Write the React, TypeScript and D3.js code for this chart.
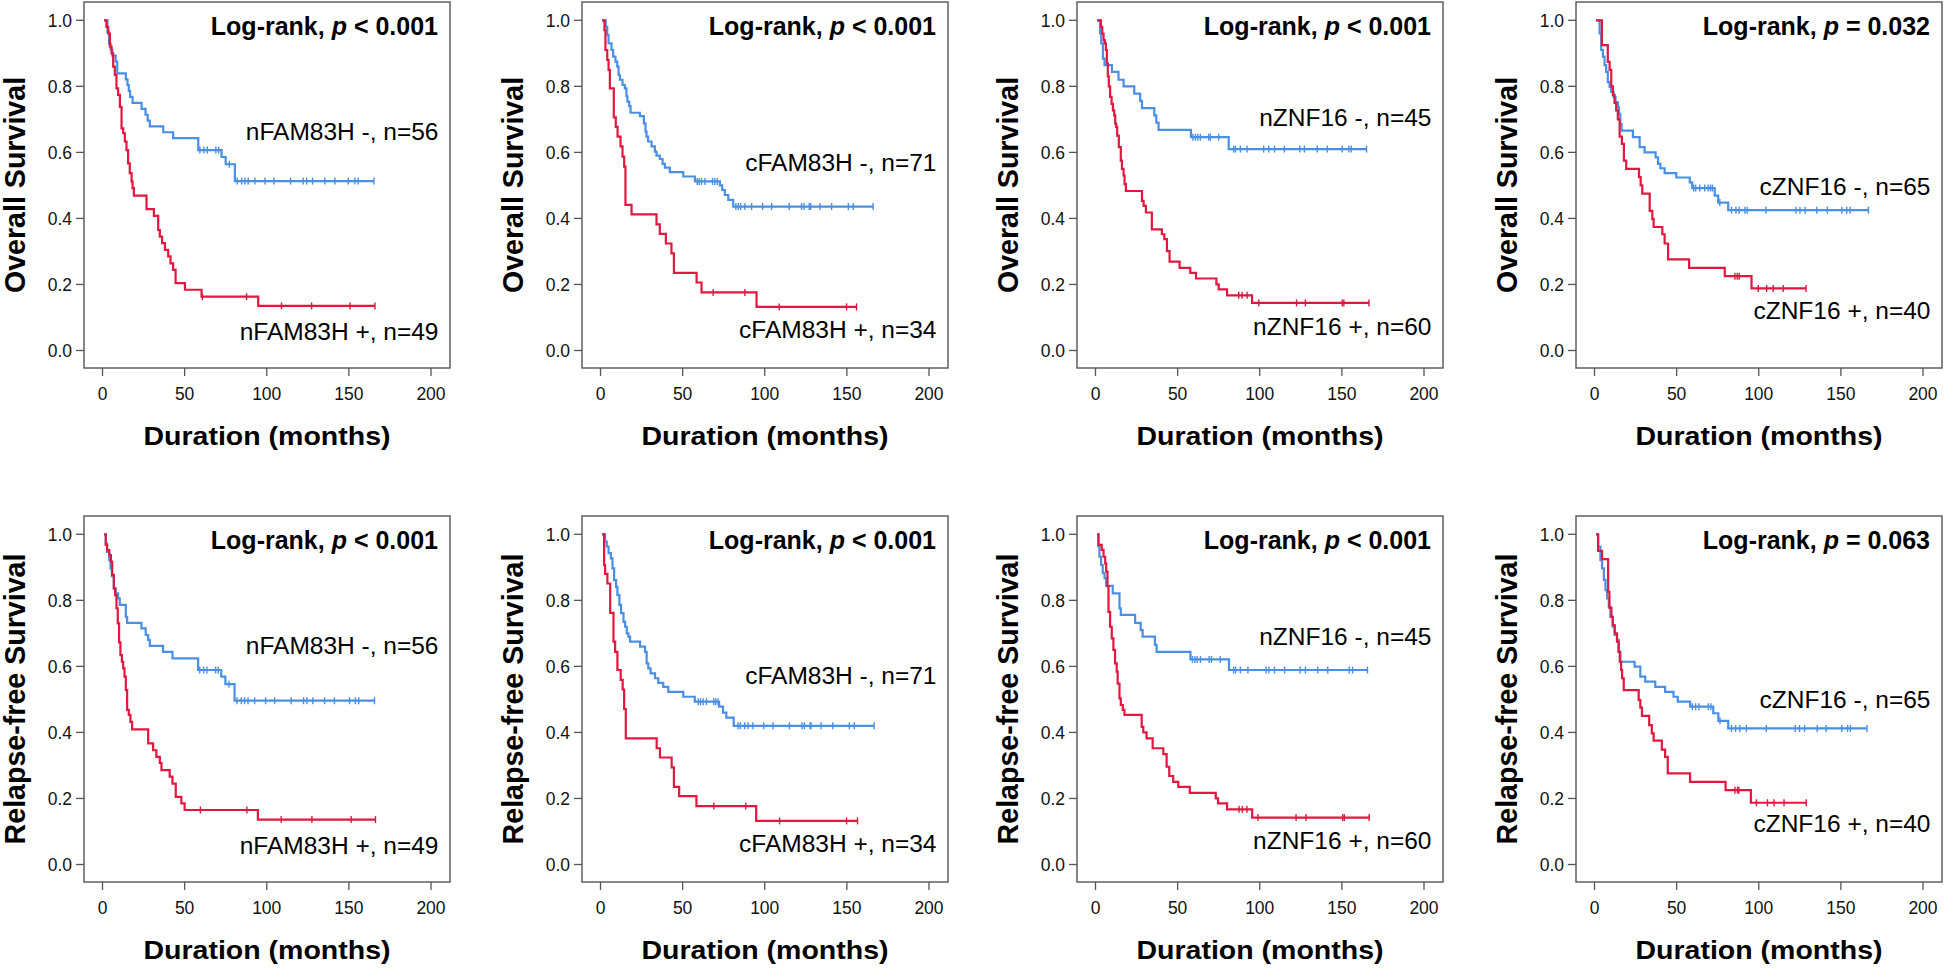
import React from 'react';
import * as d3 from 'd3';

// ---------- axis ticks ----------
const xTicks = [0, 50, 100, 150, 200];
const yTicks = [0, 0.2, 0.4, 0.6, 0.8, 1.0];

// ---------- Overall survival: nFAM83H ----------
const osNFamNegSteps = [[1,1],[3,0.964],[4,0.929],[5,0.911],[6,0.893],[8,0.875],[9,0.839],[14.2,0.821],[15.2,0.804],[16,0.786],[16.8,0.768],[18.3,0.75],[23.8,0.732],[26.2,0.714],[27.5,0.696],[28.8,0.679],[37,0.661],[43,0.643],[58.3,0.607],[72.5,0.586],[75,0.564],[80.6,0.513]];
const osNFamNegCensor = [59.3,61.7,63.8,69,70.7,77.2,82,84.7,86.7,88.7,92.8,98.9,104.4,114.5,122.2,124.3,127.9,135.4,141.5,149.6,153.7,155.7,165.3];
const osNFamPosSteps = [[1,1],[2.4,0.98],[3.5,0.96],[4.5,0.92],[5.5,0.9],[6.5,0.86],[7.5,0.835],[8.5,0.794],[9.5,0.774],[10.6,0.738],[11.6,0.673],[12.6,0.658],[13.6,0.633],[14.6,0.607],[15.6,0.567],[16.6,0.537],[17.7,0.512],[18.3,0.492],[19.1,0.469],[26.8,0.428],[31.3,0.408],[33.9,0.365],[34.9,0.345],[36.3,0.325],[38,0.305],[40,0.285],[41.4,0.264],[43,0.244],[44.5,0.204],[50.2,0.184],[60.3,0.163],[94.8,0.135]];
const osNFamPosCensor = [60.8,87.7,109,127.3,150.7,165.9];

// ---------- Overall survival: cFAM83H ----------
const osCFamNegSteps = [[1,1],[3.2,0.98],[4.1,0.955],[4.9,0.93],[6.7,0.91],[7.7,0.89],[9.1,0.875],[10.2,0.86],[11,0.835],[11.8,0.82],[13.4,0.804],[14.8,0.794],[15.8,0.77],[16.4,0.754],[17.5,0.74],[18.3,0.72],[24,0.71],[26.4,0.688],[27.4,0.663],[28,0.648],[29,0.633],[31.1,0.618],[33.1,0.602],[34.1,0.59],[36.1,0.58],[37.8,0.565],[39.2,0.554],[42.2,0.54],[50.4,0.527],[57.5,0.512],[72.7,0.5],[74.1,0.486],[75.7,0.471],[77.8,0.456],[80.8,0.436]];
const osCFamNegCensor = [58.9,60.1,61.5,63.6,68.2,69.6,71.1,82.4,83.9,85.3,87.9,92,98.7,104.2,114.9,122.4,123.9,127.1,127.9,133.6,140.7,150.9,153.9,166];
const osCFamPosSteps = [[1,1],[2.4,0.97],[3,0.91],[4.1,0.88],[4.9,0.85],[5.7,0.794],[8.1,0.706],[9.3,0.677],[10.4,0.648],[12.2,0.618],[13.4,0.587],[14.4,0.557],[15.2,0.441],[18.9,0.412],[34.1,0.382],[36.1,0.353],[39.8,0.324],[43.2,0.294],[44.7,0.235],[58.5,0.206],[61.5,0.176],[95,0.132]];
const osCFamPosCensor = [68.6,87.9,108.8,149.8,155.9];

// ---------- Overall survival: nZNF16 ----------
const osNZnfNegSteps = [[1,1],[2.8,0.96],[3.5,0.93],[4.5,0.884],[5.5,0.864],[10,0.844],[14,0.82],[17.1,0.8],[23.6,0.778],[27.2,0.756],[28.3,0.734],[35.8,0.712],[37,0.69],[38.4,0.668],[58.1,0.646],[81.1,0.61]];
const osNZnfNegCensor = [59.3,60.8,62.2,63.8,68.9,69.9,75,84.1,85.2,88.2,92.3,102.4,105.5,109,115,124.4,127.2,135,141.1,150.2,154.3,155.7,165];
const osNZnfPosSteps = [[1,1],[3.3,0.98],[4.1,0.96],[4.9,0.94],[5.7,0.93],[6.3,0.91],[6.9,0.87],[7.5,0.83],[8.1,0.8],[8.9,0.768],[9.8,0.747],[10.6,0.727],[11.4,0.712],[12,0.687],[12.6,0.677],[13.2,0.651],[14.2,0.616],[15.4,0.575],[16.1,0.55],[17.1,0.53],[17.7,0.504],[18.5,0.483],[28.3,0.453],[29.3,0.438],[30.7,0.418],[34.3,0.367],[40.4,0.352],[41.9,0.337],[43.5,0.301],[45.1,0.269],[51.2,0.25],[57.7,0.235],[61.2,0.218],[73.6,0.2],[75,0.185],[80.1,0.167],[95.3,0.144]];
const osNZnfPosCensor = [87.2,89.2,92.3,99.4,122.4,127.8,150.2,151.2,166.5];

// ---------- Overall survival: cZNF16 ----------
const osCZnfNegSteps = [[1,1],[3.1,0.96],[4.1,0.91],[5.1,0.89],[6.1,0.864],[7.1,0.844],[8.1,0.813],[9.2,0.798],[10.2,0.783],[11.6,0.768],[12.8,0.752],[14.2,0.737],[14.9,0.717],[15.7,0.686],[16.5,0.666],[23.4,0.646],[27.5,0.616],[30.5,0.6],[37.2,0.585],[38.7,0.565],[40.1,0.552],[42.7,0.537],[49.8,0.524],[58,0.509],[59.5,0.492],[73.2,0.469],[75.3,0.448],[81.4,0.425]];
const osCZnfNegCensor = [60.4,61.6,64.1,67.1,69.2,70.6,71.8,76.3,83.4,86.1,88.1,91.6,93,104.4,122.7,125.1,128.2,135.3,141.8,150.6,153.6,155.6,166.8];
const osCZnfPosSteps = [[1,1],[4.5,0.925],[8.1,0.874],[9.2,0.85],[10.2,0.8],[11.2,0.774],[12.2,0.75],[13.2,0.727],[14.2,0.7],[15.3,0.648],[16.7,0.626],[17.9,0.575],[19.3,0.55],[27.1,0.525],[28.1,0.5],[29.1,0.475],[33.6,0.423],[35.2,0.398],[36,0.374],[41.3,0.352],[42.7,0.324],[44.8,0.276],[57.6,0.25],[79.3,0.225],[95.6,0.188]];
const osCZnfPosCensor = [85.5,86.9,88.1,99.7,104.8,108.8,114.9,128.8];

// ---------- Relapse-free survival: nFAM83H ----------
const rfsNFamNegSteps = [[1,1],[2,0.972],[2.8,0.947],[4.1,0.922],[4.9,0.897],[5.7,0.873],[6.9,0.836],[8.1,0.821],[9.5,0.806],[10.5,0.786],[14.2,0.75],[15,0.732],[23.7,0.715],[26.3,0.695],[27.8,0.68],[28.8,0.662],[36.9,0.644],[42.6,0.624],[58.2,0.589],[72.3,0.569],[74.8,0.546],[80.4,0.496]];
const rfsNFamNegCensor = [59.2,61.6,63.6,68.9,70.5,77,81.9,84.5,86.5,88.6,92.6,99.3,104.8,114.9,122.4,124.4,128.1,135.2,141.2,150.4,154,156,165.6];
const rfsNFamPosSteps = [[1,1],[2,0.968],[2.8,0.952],[4.1,0.937],[5.1,0.917],[5.9,0.877],[6.9,0.836],[7.7,0.816],[8.5,0.776],[9.3,0.73],[10.1,0.673],[10.9,0.634],[11.8,0.614],[12.6,0.594],[13.4,0.569],[14.2,0.528],[15,0.468],[16,0.453],[17,0.432],[18,0.409],[27.8,0.367],[30.8,0.346],[32.8,0.326],[34.9,0.308],[35.9,0.286],[40.9,0.266],[42.6,0.245],[44.6,0.205],[48,0.185],[50,0.165],[94.6,0.136]];
const rfsNFamPosCensor = [59.6,87.9,108.8,127.5,151.4,166.2];

// ---------- Relapse-free survival: cFAM83H ----------
const rfsCFamNegSteps = [[1,1],[2.8,0.978],[3.8,0.963],[4.9,0.943],[6.3,0.927],[7.3,0.897],[8.3,0.861],[9.5,0.841],[10.3,0.816],[11.5,0.786],[12.5,0.761],[14,0.735],[15,0.72],[16,0.7],[17,0.69],[18,0.675],[24.1,0.66],[27.1,0.644],[28.1,0.609],[29.1,0.594],[30.5,0.579],[33.2,0.564],[35.2,0.55],[38.2,0.538],[41.3,0.523],[50.4,0.508],[57.4,0.493],[72.2,0.478],[74.6,0.46],[76.6,0.445],[81.1,0.42]];
const rfsCFamNegCensor = [59.5,60.9,62.5,64.5,69,70.2,71.6,83.7,85.1,87.8,89.8,92.8,99.3,105,115,122.7,124.1,127.6,128.2,134.3,141.4,151.5,154.5,166.6];
const rfsCFamPosSteps = [[1,1],[2.2,0.907],[2.8,0.88],[4.2,0.851],[5.9,0.762],[7.9,0.675],[8.9,0.644],[10.3,0.589],[12.3,0.559],[13.5,0.53],[14.4,0.471],[15.4,0.382],[34.2,0.352],[36.2,0.324],[43.3,0.294],[44.7,0.235],[47.9,0.207],[58.4,0.177],[94.8,0.132]];
const rfsCFamPosCensor = [69,88.4,109,149.8,156.5];

// ---------- Relapse-free survival: nZNF16 ----------
const rfsNZnfNegSteps = [[1,1],[1.8,0.963],[2.4,0.932],[3.4,0.907],[4.4,0.882],[5.5,0.867],[6.5,0.844],[10.5,0.821],[14.6,0.776],[15.4,0.756],[24.1,0.732],[27.5,0.71],[28.7,0.69],[36.2,0.665],[37.2,0.644],[57.8,0.621],[81.3,0.589]];
const rfsNZnfNegCensor = [59,60.5,61.9,63.9,69.2,70.6,76,84.1,85.3,88.2,92.8,103.9,105.6,109,115.1,124.6,127.8,135.3,141.4,154.5,156.5,165.6];
const rfsNZnfPosSteps = [[1,1],[1.8,0.968],[3.8,0.953],[4.9,0.932],[5.9,0.912],[6.5,0.887],[7.3,0.843],[7.9,0.765],[8.9,0.72],[9.9,0.685],[10.9,0.65],[11.9,0.609],[12.9,0.584],[13.5,0.548],[14.6,0.503],[15.4,0.483],[16.6,0.468],[17.6,0.453],[28.1,0.417],[29.1,0.4],[31.1,0.382],[34.8,0.352],[41.3,0.334],[43.3,0.296],[44.9,0.268],[47.3,0.25],[50.4,0.235],[57.4,0.217],[73.2,0.2],[74.6,0.185],[80.1,0.167],[95.4,0.142]];
const rfsNZnfPosCensor = [87.4,89.4,92.2,98.9,122.1,128.2,150.5,151.5,166.6];

// ---------- Relapse-free survival: cZNF16 ----------
const rfsCZnfNegSteps = [[1,1],[2.2,0.963],[3.6,0.922],[4.6,0.897],[5.7,0.862],[6.7,0.831],[7.7,0.806],[8.7,0.781],[9.7,0.75],[11.1,0.72],[12.3,0.695],[13.7,0.68],[14.7,0.644],[15.8,0.614],[24.4,0.599],[27.9,0.569],[30.9,0.554],[37,0.538],[43,0.523],[48.1,0.508],[50.7,0.493],[58.2,0.478],[72.3,0.458],[75.4,0.435],[81.4,0.412]];
const rfsCZnfNegCensor = [59.6,61.6,63.6,69.3,70.9,76.4,83.4,85.9,88.5,92.5,104.6,122.2,124.8,127.9,135.6,141,150.5,154.1,155.8,165.9];
const rfsCZnfPosSteps = [[1,1],[2.2,0.95],[4.6,0.925],[8.3,0.826],[9.1,0.777],[10.3,0.75],[11.1,0.725],[12.3,0.7],[13.7,0.675],[14.7,0.644],[15.4,0.614],[16.2,0.589],[16.8,0.564],[17.8,0.528],[26.9,0.498],[27.9,0.475],[28.9,0.45],[33.3,0.422],[34.9,0.397],[36,0.375],[41,0.348],[43,0.326],[44.6,0.276],[58.2,0.25],[79.8,0.225],[95.2,0.187]];
const rfsCZnfPosCensor = [85.5,87.1,87.9,98.6,105.3,109.3,115.4,128.9];

// ---------- panel definitions ----------
const BLUE = '#4a8fe6';
const RED = '#e2163f';
const FONT = '"Liberation Sans", Arial, Helvetica, sans-serif';

const colLefts = [84, 582, 1077, 1576];
const rowTops = [2, 516];
const BOX_W = 366;
const BOX_H = 366;

type Panel = {
  col: number; row: number; yTitle: string; pText: string;
  negLabel: string; posLabel: string; negLabelY: number; posLabelY: number;
  negSteps: number[][]; negCensor: number[]; posSteps: number[][]; posCensor: number[];
};

const panels: Panel[] = [
  { col: 0, row: 0, yTitle: 'Overall Survival', pText: '< 0.001', negLabel: 'nFAM83H -, n=56', posLabel: 'nFAM83H +, n=49', negLabelY: 0.638, posLabelY: 0.032, negSteps: osNFamNegSteps, negCensor: osNFamNegCensor, posSteps: osNFamPosSteps, posCensor: osNFamPosCensor },
  { col: 1, row: 0, yTitle: 'Overall Survival', pText: '< 0.001', negLabel: 'cFAM83H -, n=71', posLabel: 'cFAM83H +, n=34', negLabelY: 0.545, posLabelY: 0.038, negSteps: osCFamNegSteps, negCensor: osCFamNegCensor, posSteps: osCFamPosSteps, posCensor: osCFamPosCensor },
  { col: 2, row: 0, yTitle: 'Overall Survival', pText: '< 0.001', negLabel: 'nZNF16 -, n=45', posLabel: 'nZNF16 +, n=60', negLabelY: 0.68, posLabelY: 0.046, negSteps: osNZnfNegSteps, negCensor: osNZnfNegCensor, posSteps: osNZnfPosSteps, posCensor: osNZnfPosCensor },
  { col: 3, row: 0, yTitle: 'Overall Survival', pText: '= 0.032', negLabel: 'cZNF16 -, n=65', posLabel: 'cZNF16 +, n=40', negLabelY: 0.47, posLabelY: 0.094, negSteps: osCZnfNegSteps, negCensor: osCZnfNegCensor, posSteps: osCZnfPosSteps, posCensor: osCZnfPosCensor },
  { col: 0, row: 1, yTitle: 'Relapse-free Survival', pText: '< 0.001', negLabel: 'nFAM83H -, n=56', posLabel: 'nFAM83H +, n=49', negLabelY: 0.639, posLabelY: 0.033, negSteps: rfsNFamNegSteps, negCensor: rfsNFamNegCensor, posSteps: rfsNFamPosSteps, posCensor: rfsNFamPosCensor },
  { col: 1, row: 1, yTitle: 'Relapse-free Survival', pText: '< 0.001', negLabel: 'cFAM83H -, n=71', posLabel: 'cFAM83H +, n=34', negLabelY: 0.546, posLabelY: 0.038, negSteps: rfsCFamNegSteps, negCensor: rfsCFamNegCensor, posSteps: rfsCFamPosSteps, posCensor: rfsCFamPosCensor },
  { col: 2, row: 1, yTitle: 'Relapse-free Survival', pText: '< 0.001', negLabel: 'nZNF16 -, n=45', posLabel: 'nZNF16 +, n=60', negLabelY: 0.664, posLabelY: 0.048, negSteps: rfsNZnfNegSteps, negCensor: rfsNZnfNegCensor, posSteps: rfsNZnfPosSteps, posCensor: rfsNZnfPosCensor },
  { col: 3, row: 1, yTitle: 'Relapse-free Survival', pText: '= 0.063', negLabel: 'cZNF16 -, n=65', posLabel: 'cZNF16 +, n=40', negLabelY: 0.473, posLabelY: 0.099, negSteps: rfsCZnfNegSteps, negCensor: rfsCZnfNegCensor, posSteps: rfsCZnfPosSteps, posCensor: rfsCZnfPosCensor },
];

function stepPath(steps: number[][], censor: number[], x: d3.ScaleLinear<number, number>, y: d3.ScaleLinear<number, number>) {
  const end = Math.max(d3.max(censor) ?? 0, steps[steps.length - 1][0]);
  const p = d3.path();
  p.moveTo(x(steps[0][0]), y(steps[0][1]));
  for (let i = 1; i < steps.length; i++) {
    p.lineTo(x(steps[i][0]), y(steps[i - 1][1]));
    p.lineTo(x(steps[i][0]), y(steps[i][1]));
  }
  p.lineTo(x(end), y(steps[steps.length - 1][1]));
  return p.toString();
}

function survAt(steps: number[][], t: number) {
  let s = steps[0][1];
  for (const [ti, si] of steps) { if (ti <= t) s = si; }
  return s;
}

function Curve({ steps, censor, color, x, y }: any) {
  return (
    <g>
      <path d={stepPath(steps, censor, x, y)} fill="none" stroke={color} strokeWidth={2.2} strokeLinejoin="miter" />
      {censor.map((c: number, i: number) => {
        const cy = y(survAt(steps, c));
        return <line key={i} x1={x(c)} x2={x(c)} y1={cy - 3.5} y2={cy + 3.5} stroke={color} strokeWidth={1.4} />;
      })}
    </g>
  );
}

function KMPanel({ p }: { p: Panel }) {
  const left = colLefts[p.col];
  const top = rowTops[p.row];
  const x = d3.scaleLinear().domain([0, 200]).range([18.5, 347]);
  const y = d3.scaleLinear().domain([0, 1]).range([348.5, 18.3]);
  const axisColor = '#555';
  return (
    <g transform={`translate(${left},${top})`} fontFamily={FONT}>
      <rect x={0} y={0} width={BOX_W} height={BOX_H} fill="none" stroke={axisColor} strokeWidth={1.4} />
      {yTicks.map((v) => (
        <g key={'y' + v}>
          <line x1={-8} x2={0} y1={y(v)} y2={y(v)} stroke={axisColor} strokeWidth={1.3} />
          <text x={-12} y={y(v) + 6.2} textAnchor="end" fontSize={17.5} fill="#111">{v.toFixed(1)}</text>
        </g>
      ))}
      {xTicks.map((v) => (
        <g key={'x' + v}>
          <line x1={x(v)} x2={x(v)} y1={BOX_H} y2={BOX_H + 8} stroke={axisColor} strokeWidth={1.3} />
          <text x={x(v)} y={BOX_H + 31.5} textAnchor="middle" fontSize={17.5} fill="#111">{v}</text>
        </g>
      ))}
      <Curve steps={p.negSteps} censor={p.negCensor} color={BLUE} x={x} y={y} />
      <Curve steps={p.posSteps} censor={p.posCensor} color={RED} x={x} y={y} />
      <text x={BOX_W - 12} y={33} textAnchor="end" fontSize={25} fontWeight="bold" fill="#000">
        <tspan>Log-rank, </tspan>
        <tspan fontStyle="italic">p</tspan>
        <tspan>{' ' + p.pText}</tspan>
      </text>
      <text x={BOX_W - 11.5} y={y(p.negLabelY)} textAnchor="end" fontSize={24.5} fill="#000">{p.negLabel}</text>
      <text x={BOX_W - 11.5} y={y(p.posLabelY)} textAnchor="end" fontSize={24.5} fill="#000">{p.posLabel}</text>
      <text x={BOX_W / 2} y={BOX_H + 77} textAnchor="middle" fontSize={26} fontWeight="bold" fill="#000"
        textLength={247} lengthAdjust="spacingAndGlyphs">Duration (months)</text>
      <text transform={`translate(-59,${BOX_H / 2}) rotate(-90)`} textAnchor="middle" fontSize={28.6} fontWeight="bold" fill="#000">{p.yTitle}</text>
    </g>
  );
}

export default function App() {
  return (
    <svg width={1946} height={969} style={{ position: 'absolute', left: 0, top: 0, background: '#fff' }}>
      <rect x={0} y={0} width={1946} height={969} fill="#fff" />
      {panels.map((p, i) => <KMPanel key={i} p={p} />)}
    </svg>
  );
}
